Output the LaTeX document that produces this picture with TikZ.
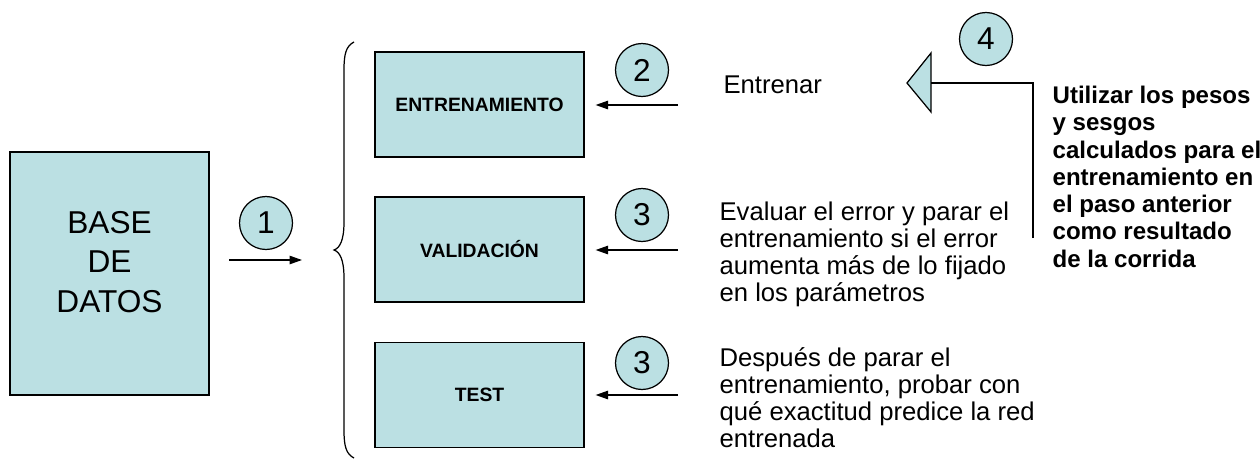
\documentclass[tikz,border=0pt]{standalone}
\usepackage{fontspec}
\setmainfont{Liberation Sans}
\usepackage{xcolor}
\usepackage{tikz}
\usetikzlibrary{arrows.meta}
\usetikzlibrary{positioning}
\definecolor{boxfill}{RGB}{187,224,227}
\begin{document}
\begin{tikzpicture}[
    x=0.02cm, y=-0.02cm,
    line width=0.7pt,
    box/.style={draw, fill=boxfill, minimum width=4.18cm, minimum height=2.1cm, inner sep=0pt, font=\bfseries\fontsize{11}{13}\selectfont},
    stepnum/.style={circle, draw, fill=boxfill, minimum size=1.06cm, inner sep=0pt, font=\fontsize{18}{20}\selectfont},
    note/.style={anchor=base west, align=left, inner sep=0pt, font=\fontsize{14.6}{15.3}\selectfont},
    bold note/.style={anchor=base west, align=left, inner sep=0pt, font=\bfseries\fontsize{13.7}{15.5}\selectfont},
    flow/.style={-{Triangle[length=2.5mm,width=1.7mm]}},
  ]
  \useasboundingbox (0,0) rectangle (1260,460);

  % Base de datos
  \node[draw, fill=boxfill, minimum width=3.98cm, minimum height=4.86cm, inner sep=0pt] (db) at (109.5,273.5) {};
  \node[align=center, font=\fontsize{18}{22.7}\selectfont] (dblabel) at (109.5,262) {BASE\\DE\\DATOS};

  % Paso 1
  \node[stepnum] (n1) at (266,223) {1};
  \coordinate (a1s) at (229,260);
  \coordinate (a1e) at (302,260);
  \draw[flow] (a1s) -- (a1e);

  % Llave
  \coordinate (brtop) at (354,42);
  \coordinate (brtip) at (334,250);
  \coordinate (brbot) at (354,458);
  \draw (brtop) .. controls (346,46) and (344,54) .. (344,70)
        -- (344,222) .. controls (344,240) and (340,248) .. (brtip)
        .. controls (340,252) and (344,260) .. (344,278)
        -- (344,430) .. controls (344,446) and (346,454) .. (brbot);

  % Cajas
  \node[box] (train) at (479.5,104.5) {ENTRENAMIENTO};
  \node[box] (valid) at (479.5,249.5) {VALIDACIÓN};
  \node[box] (test)  at (479.5,395)   {TEST};

  % Flechas hacia las cajas
  \coordinate (a2) at (678,105);
  \coordinate (a3) at (678,250);
  \coordinate (a3b) at (678,395);
  \draw[flow, shorten >=0.22cm] (a2) -- (train.east |- a2);
  \draw[flow, shorten >=0.22cm] (a3) -- (valid.east |- a3);
  \draw[flow, shorten >=0.22cm] (a3b) -- (test.east |- a3b);

  % Numeros
  \node[stepnum] (n2) at (642,70)  {2};
  \node[stepnum] (n3) at (642,215) {3};
  \node[stepnum] (n3b) at (642,363) {3};
  \node[stepnum] (n4) at (986,39)  {4};

  % Textos (anclados en la ultima linea)
  \node[note] (t2) at (723,93) {Entrenar};
  \node[note] (t3) at (719,301) {Evaluar el error y parar el\\entrenamiento si el error\\aumenta más de lo fijado\\en los parámetros};
  \node[note] (t3b) at (719,447) {Después de parar el\\entrenamiento, probar con\\qué exactitud predice la red\\entrenada};
  \node[bold note] (t4) at (1052,267) {Utilizar los pesos\\y sesgos\\calculados para el\\entrenamiento en\\el paso anterior\\como resultado\\de la corrida};

  % Retorno
  \coordinate (tri) at (931,83);
  \coordinate (ret) at (1033,238);
  \draw[fill=boxfill] (907,83) -- (931,53) -- (931,112) -- cycle;
  \draw (ret) |- (tri);

\end{tikzpicture}
\end{document}
